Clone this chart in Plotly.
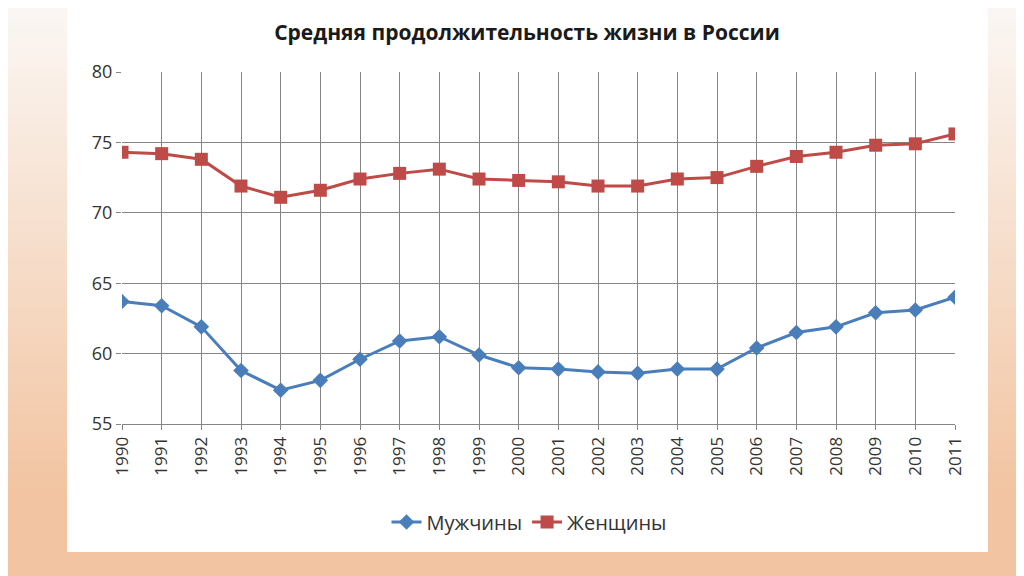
import plotly.graph_objects as go

years = list(range(1990, 2012))
men = [63.7, 63.4, 61.9, 58.8, 57.4, 58.1, 59.6, 60.9, 61.2, 59.9, 59.0, 58.9,
       58.7, 58.6, 58.9, 58.9, 60.4, 61.5, 61.9, 62.9, 63.1, 64.0]
women = [74.3, 74.2, 73.8, 71.9, 71.1, 71.6, 72.4, 72.8, 73.1, 72.4, 72.3, 72.2,
         71.9, 71.9, 72.4, 72.5, 73.3, 74.0, 74.3, 74.8, 74.9, 75.6]

# page body has an 8px margin, so the figure is laid out in page pixels minus 8
OFF = 8
W, H = 1024 - OFF, 576 - OFF
L, T = 122 - OFF, 72 - OFF
pw, ph = 833, 352
R, B = W - L - pw, H - T - ph


def px_x(x):
    return (x - OFF - L) / pw


def px_y(y):
    return (T + ph - (y - OFF)) / ph


fig = go.Figure()

fig.add_trace(go.Scatter(
    x=years, y=men, name="Мужчины", mode="lines+markers",
    line=dict(color="#4a7ebb", width=3),
    marker=dict(symbol="diamond", size=12, color="#4a7ebb"),
))
fig.add_trace(go.Scatter(
    x=years, y=women, name="Женщины", mode="lines+markers",
    line=dict(color="#be4b48", width=3),
    marker=dict(symbol="square", size=13, color="#be4b48"),
))

# peach vertical gradient behind the white chart box
shapes = []
top, bot = (251, 248, 245), (242, 196, 162)
n = 60
for i in range(n):
    t = min(1.0, (i + 0.5) / n / 0.85)
    c = tuple(round(a + (b - a) * t) for a, b in zip(top, bot))
    y0 = 576 * i / n
    y1 = 576 * (i + 1) / n + 1
    shapes.append(dict(type="rect", xref="paper", yref="paper", layer="below",
                       x0=px_x(0), x1=px_x(1030), y0=px_y(y1), y1=px_y(y0),
                       line=dict(width=0), fillcolor="rgb(%d,%d,%d)" % c))
shapes.append(dict(type="rect", xref="paper", yref="paper", layer="below",
                   x0=px_x(67), x1=px_x(988), y0=px_y(552), y1=px_y(6),
                   line=dict(width=0), fillcolor="white"))

fig.update_layout(
    width=W, height=H,
    margin=dict(l=L, r=R, t=T, b=B),
    paper_bgcolor="rgb(251,248,245)",
    plot_bgcolor="rgba(0,0,0,0)",
    shapes=shapes,
    font=dict(family="Open Sans, Noto Sans, sans-serif", color="#333"),
    title=dict(text="<b>Средняя продолжительность жизни в России</b>",
               x=px_x(527), xref="paper", xanchor="center",
               y=1 - (33 - OFF) / H, yanchor="middle",
               font=dict(size=21, color="#1a1a1a")),
    legend=dict(orientation="h", x=px_x(529), xanchor="center",
                y=px_y(522), yanchor="middle",
                font=dict(size=20, color="#333"), bgcolor="rgba(0,0,0,0)"),
    showlegend=True,
)

fig.update_xaxes(
    range=[1990, 2011], dtick=1, tickangle=-90,
    showgrid=True, gridcolor="#858585", gridwidth=1.3,
    showline=True, linecolor="#858585",
    ticks="outside", ticklen=5, tickcolor="#858585",
    tickfont=dict(size=17, color="#333"), zeroline=False,
)
fig.update_yaxes(
    range=[55, 80], dtick=5,
    showgrid=True, gridcolor="#858585", gridwidth=1.3,
    showline=False,
    ticks="outside", ticklen=5, tickcolor="#858585",
    tickfont=dict(size=18, color="#333"), zeroline=False,
)

fig.write_html("out.html")
